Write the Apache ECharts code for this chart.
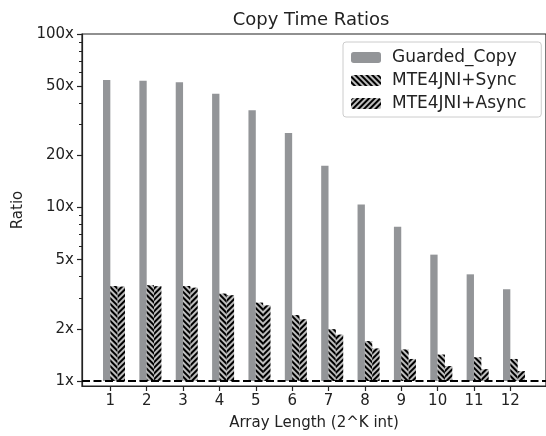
<!DOCTYPE html>
<html>
<head>
<meta charset="utf-8">
<script src="https://cdn.jsdelivr.net/npm/echarts@6/dist/echarts.min.js"></script>
<style>
html, body { margin: 0; padding: 0; background: #fff; }
#chart { width: 546px; height: 436px; }
</style>
</head>
<body>
<div id="chart"></div>
<script>
// values (ratio vs. baseline)
const arrayLength = [1, 2, 3, 4, 5, 6, 7, 8, 9, 10, 11, 12];
const guardedCopy = [54.4, 53.7, 52.8, 45.2, 36.3, 26.9, 17.4, 10.4, 7.74, 5.35, 4.12, 3.38];
const mteSync = [3.53, 3.56, 3.53, 3.19, 2.83, 2.40, 1.99, 1.70, 1.52, 1.42, 1.37, 1.34];
const mteAsync = [3.50, 3.52, 3.45, 3.12, 2.73, 2.27, 1.85, 1.54, 1.34, 1.22, 1.17, 1.14];
const yTicks = [1, 2, 5, 10, 20, 50, 100];
const yMinorTicks = [3, 4, 6, 7, 8, 9, 30, 40, 60, 70, 80, 90];

const FONT = 'DejaVu Sans';
const INK = '#222';
const BAR_W = 0.2; // bar width in x units, like matplotlib

// group of 3 bars sits so that the tick falls between bar 1 and bar 2
const pairs = (vals) => vals.map((v, i) => [arrayLength[i] + BAR_W / 2, v]);

const hatch = (rot) => ({
  symbol: 'rect',
  symbolSize: 1,
  color: '#000',
  dashArrayX: [1, 0],
  dashArrayY: [1.4, 1.9],
  rotation: rot
});

const chart = echarts.init(document.getElementById('chart'), null, { renderer: 'canvas' });

const option = {
  animation: false,
  textStyle: { fontFamily: FONT },
  title: {
    text: 'Copy Time Ratios',
    left: 306,
    textAlign: 'center',
    top: 6,
    textStyle: { fontFamily: FONT, fontSize: 18, fontWeight: 'normal', color: INK }
  },
  grid: {
    show: true,
    left: 82,
    right: -4,
    top: 34,
    bottom: 49,
    borderColor: INK,
    borderWidth: 1.2,
    backgroundColor: 'transparent'
  },
  legend: {
    orient: 'vertical',
    left: 343,
    top: 42,
    padding: [7, 15, 5, 8],
    itemWidth: 30,
    itemHeight: 11,
    itemGap: 6,
    backgroundColor: 'rgba(255,255,255,0.85)',
    borderColor: '#ccc',
    borderWidth: 1,
    borderRadius: 3,
    textStyle: { fontFamily: FONT, fontSize: 17, color: INK, lineHeight: 17, padding: [0, 0, 0, 6] },
    data: ['Guarded_Copy', 'MTE4JNI+Sync', 'MTE4JNI+Async']
  },
  xAxis: {
    type: 'value',
    min: 0.22,
    max: 12.98,
    name: 'Array Length (2^K int)',
    nameLocation: 'middle',
    nameGap: 30,
    nameTextStyle: { fontFamily: FONT, fontSize: 15, color: INK },
    axisLine: { show: true, onZero: false, lineStyle: { color: INK, width: 1.2 } },
    axisTick: { show: true, length: 5, lineStyle: { color: INK, width: 1.2 }, customValues: arrayLength },
    axisLabel: { fontFamily: FONT, fontSize: 15, color: INK, margin: 8, customValues: arrayLength },
    splitLine: { show: false }
  },
  yAxis: [
    {
      type: 'log',
      logBase: 10,
      min: 0.936,
      max: 100,
      position: 'left',
      name: 'Ratio',
      nameLocation: 'middle',
      nameGap: 56,
      nameTextStyle: { fontFamily: FONT, fontSize: 15, color: INK },
      axisLine: { show: true, lineStyle: { color: INK, width: 1.2 } },
      axisTick: { show: true, length: 5, lineStyle: { color: INK, width: 1.2 }, customValues: yTicks },
      axisLabel: {
        fontFamily: FONT, fontSize: 15, color: INK, margin: 8,
        customValues: yTicks,
        formatter: (v) => Math.round(v) + 'x'
      },
      splitLine: { show: false }
    },
    {
      type: 'log',
      logBase: 10,
      min: 0.936,
      max: 100,
      position: 'left',
      axisLine: { show: false },
      axisTick: { show: true, length: 3, lineStyle: { color: INK, width: 1 }, customValues: yMinorTicks },
      axisLabel: { show: false },
      splitLine: { show: false }
    }
  ],
  series: [
    {
      name: 'Guarded_Copy',
      type: 'bar',
      barWidth: 7.33,
      barGap: '0%',
      data: pairs(guardedCopy),
      itemStyle: { color: '#939598' }
    },
    {
      name: 'MTE4JNI+Sync',
      type: 'bar',
      barWidth: 7.33,
      barGap: '0%',
      data: pairs(mteSync),
      itemStyle: { color: '#bdbdbd', decal: hatch(Math.PI / 4) }
    },
    {
      name: 'MTE4JNI+Async',
      type: 'bar',
      barWidth: 7.33,
      barGap: '0%',
      data: pairs(mteAsync),
      itemStyle: { color: '#bdbdbd', decal: hatch(-Math.PI / 4) },
      markLine: {
        silent: true,
        symbol: 'none',
        label: { show: false },
        lineStyle: { color: '#000', width: 2.2, type: [8, 3.5] },
        data: [{ yAxis: 1 }]
      }
    }
  ]
};

chart.setOption(option);
</script>
</body>
</html>
